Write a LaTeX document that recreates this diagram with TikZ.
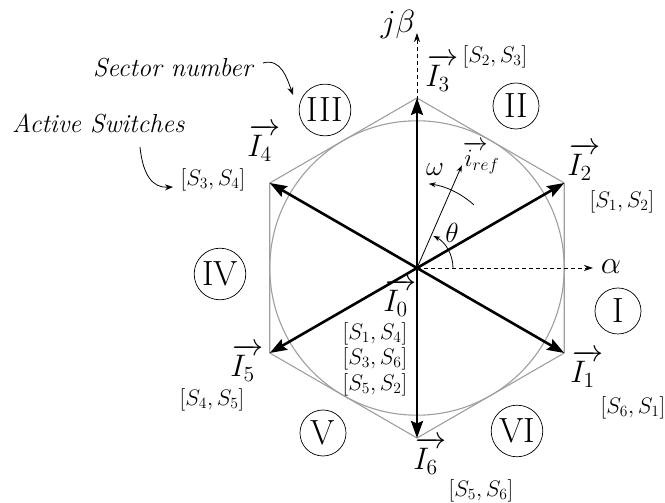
\RequirePackage{fix-cm}
\documentclass[tikz,border=0pt]{standalone}
\usepackage{amsmath}
\usetikzlibrary{arrows.meta}
\newcommand{\arrI}[1]{\makebox[0pt][l]{\kern1.5pt$\overrightarrow{\phantom{I}\kern2pt}$}$I_{#1}$}
\begin{document}
\begin{tikzpicture}[x=1pt,y=1pt,
  hexline/.style={draw=black!38,line width=1.1pt},
  axisline/.style={dashed,line width=0.8pt,dash pattern=on 4pt off 3pt,-{Stealth[length=9pt,width=6pt]}},
  phasor/.style={line width=2.6pt,-{Stealth[length=17pt,width=12pt,inset=2.5pt]}},
  thinarrow/.style={line width=0.8pt,-{Stealth[length=7pt,width=5pt]}},
  notearrow/.style={line width=0.8pt,-{Stealth[length=8pt,width=6pt]}},
  veclab/.style={inner sep=0pt,anchor=base west,font=\huge,scale=1.5},
  swlab/.style={inner sep=0pt,font=\LARGE,scale=1.3},
  greek/.style={inner sep=0pt,font=\LARGE,scale=1.6},
  axlab/.style={inner sep=0pt,font=\huge,scale=1.55},
  sector/.style={circle,draw,line width=0.7pt,inner sep=3pt,minimum size=46pt,font=\fontsize{35}{40}\selectfont},
  note/.style={inner sep=0pt,anchor=base west,font=\fontsize{26}{30}\selectfont\itshape}]
\useasboundingbox (-417,-235) rectangle (248,268);
\coordinate (O) at (0,0);
\coordinate (V2) at (30:170);
\coordinate (V3) at (90:170);
\coordinate (V4) at (150:170);
\coordinate (V5) at (210:170);
\coordinate (V6) at (270:170);
\coordinate (V1) at (330:170);
% hexagon and circle
\draw[hexline] (V1)--(V2)--(V3)--(V4)--(V5)--(V6)--cycle;
\draw[hexline] (O) circle (147.2);
% axes
\coordinate (A) at (176,0);
\coordinate (B) at (0,235);
\draw[axisline] (O) -- (A);
\draw[axisline] (O) -- (B);
\node[axlab] (alpha) at (194,1) {$\alpha$};
\node[axlab] (jbeta) at (-19,244) {$j\beta$};
% phasors
\draw[phasor] (O) -- (V1);
\draw[phasor] (O) -- (V2);
\draw[phasor] (O) -- (V3);
\draw[phasor] (O) -- (V4);
\draw[phasor] (O) -- (V5);
\draw[phasor] (O) -- (V6);
% reference vector and angles
\coordinate (R) at (66.4:112);
\draw[thinarrow] (O) -- (R);
\draw[thinarrow] (36,0) arc[start angle=0,end angle=63,radius=36];
\draw[thinarrow] (48:85) arc[start angle=48,end angle=82,radius=85];
\node[greek] (theta) at (35,35) {$\theta$};
\node[greek] (omega) at (18,98) {$\omega$};
\node[greek,anchor=base west,scale=0.9] (iref) at (47,101) {\makebox[0pt][l]{\kern-1pt$\overrightarrow{\phantom{i}\kern2pt}$}$i_{ref}$};
% vector labels
\node[veclab] (l3) at (8,181) {\arrI{3}};
\node[veclab] (l2) at (150,92) {\arrI{2}};
\node[veclab] (l1) at (153,-115) {\arrI{1}};
\node[veclab] (l4) at (-170,111) {\arrI{4}};
\node[veclab] (l5) at (-187,-109) {\arrI{5}};
\node[veclab] (l6) at (-4,-202) {\arrI{6}};
\node[veclab] (l0) at (-34,-44) {\arrI{0}};
% switch labels
\node[swlab] (s3) at (78,211) {$[S_2,S_3]$};
\node[swlab] (s2) at (205,66) {$[S_1,S_2]$};
\node[swlab] (s1) at (216,-140) {$[S_6,S_1]$};
\node[swlab] (s4) at (-204,88) {$[S_3,S_4]$};
\node[swlab] (s5) at (-205,-132) {$[S_4,S_5]$};
\node[swlab] (s6) at (64,-223) {$[S_5,S_6]$};
\node[swlab] (s0a) at (-42,-66) {$[S_1,S_4]$};
\node[swlab] (s0b) at (-42,-91) {$[S_3,S_6]$};
\node[swlab] (s0c) at (-42,-117) {$[S_5,S_2]$};
% sectors
\node[sector] (secI) at (201,-43) {I};
\node[sector] (secII) at (99,162) {II};
\node[sector] (secIII) at (-92,158) {III};
\node[sector] (secIV) at (-197,-6) {IV};
\node[sector] (secV) at (-94,-165) {V};
\node[sector] (secVI) at (100,-163) {VI};
% notes
\node[note] (sn) at (-324,191) {Sector number};
\node[note] (as) at (-405,135) {Active Switches};
\coordinate (snS) at (-154,205);
\coordinate (snE) at (-124,173);
\draw[notearrow] (snS) .. controls (-136,210) and (-130,190) .. (snE);
\coordinate (asS) at (-277,121);
\coordinate (asE) at (-244,81);
\draw[notearrow] (asS) .. controls (-274,92) and (-264,80) .. (asE);
\end{tikzpicture}
\end{document}
